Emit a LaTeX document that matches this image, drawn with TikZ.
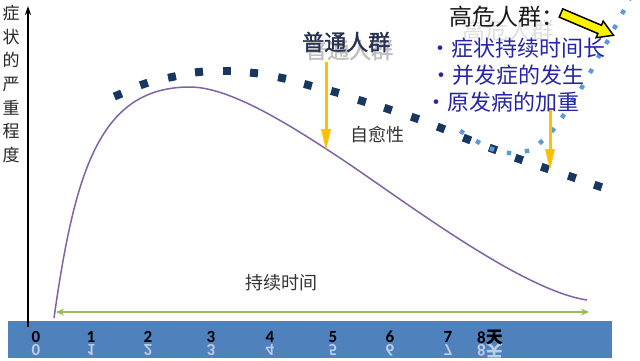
\documentclass[tikz,border=0pt]{standalone}
\usepackage{fontspec}
\setmainfont{Carlito}
\newfontfamily\cjk{Noto Sans CJK SC}
\newfontfamily\cjkb[FakeBold=1.6]{Noto Sans CJK SC}
\usetikzlibrary{arrows.meta}
\definecolor{bandc}{HTML}{4F81BD}
\definecolor{navydot}{HTML}{17375E}
\definecolor{lightdot}{HTML}{5B9BD5}
\definecolor{curvec}{HTML}{8064A2}
\definecolor{greenar}{HTML}{9BBB59}
\definecolor{goldc}{HTML}{FFC000}
\definecolor{bluetext}{RGB}{38,38,165}
\definecolor{ptcol}{RGB}{40,50,80}
\tikzset{
  ticklab/.style={inner sep=0pt, font=\bfseries\fontsize{17}{17}\selectfont, text=black},
  tickref/.style={inner sep=0pt, font=\bfseries\fontsize{17}{17}\selectfont, text=bandc!40!white, yscale=-1},
  risktext/.style={anchor=west, inner sep=0pt, text=bluetext, font=\cjk\fontsize{22}{22}\selectfont},
  yellowarrow/.style={goldc, line width=3pt, -{Triangle[length=22pt,width=9pt]}},
  darksq/.style={fill=navydot},
  lightsq/.style={fill=lightdot}
}
\begin{document}
\begin{tikzpicture}[x=1pt,y=-1pt]
\useasboundingbox (0,0) rectangle (640,360);
\fill[white] (0,0) rectangle (640,360);

% bottom band
\fill[bandc] (8,321) rectangle (612,358);

% y axis
\coordinate (ybot) at (28,327);
\coordinate (ytop) at (28,6);
\draw[line width=1.3pt, -{Stealth[length=9pt,width=6pt]}] (ybot) -- (ytop);
\node[inner sep=0pt, align=center, font=\cjk\fontsize{17}{23.7}\selectfont, text=black!85] (ylab) at (11,84)
  {症\\状\\的\\严\\重\\程\\度};

% tick labels and reflections
\begin{scope}
\clip (8,321) rectangle (612,358);
\foreach \lab/\x in {0/36,1/91,2/148,3/211,4/270,5/333,6/390,7/448}{
  \node[tickref] (r\lab) at (\x,350) {\lab};
}
\node[tickref] (r8) at (490,350) {8{\cjk 天}};
\end{scope}
\foreach \lab/\x in {0/36,1/91,2/148,3/211,4/270,5/333,6/390,7/448}{
  \node[ticklab] (t\lab) at (\x,337) {\lab};
}
\node[ticklab] (t8) at (490,337) {8{\cjk 天}};

% green duration arrow
\coordinate (gl) at (56,312);
\coordinate (gr) at (589,312);
\draw[greenar, line width=2.5pt, {Stealth[length=8pt,width=7pt]}-{Stealth[length=8pt,width=7pt]}] (gl) -- (gr);
\node[inner sep=0pt, font=\cjk\fontsize{18}{18}\selectfont, text=black!80] (dur) at (281,283) {持续时间};

% dark dotted trend (normal population)
\foreach \x/\y/\a in {118/95/22,144/84/18,172/77/12,199/72/6,227/71/0,254/73/-6,282/78/-12,308/85/-15,
  335/92/-16,362/101/-17,388/109/-18,415/118/-19,441/128/-21,467/139/-21,493/149/-20,519/159/-19,
  545/168/-18,572/177/-18,598/186/-18}{
  \fill[darksq, rotate around={\a:(\x,\y)}] (\x-4,\y-4) rectangle (\x+4,\y+4);
}

% light dotted trend (high-risk population)
\foreach \x/\y/\a in {462/132/-32,478/142/-30,492/149/-20,509/153/-5,527/151/15,541/142/40,553/130/50,
  563/116/55,573/100/58,582/87/60,591/71/60,599/56/60,607/42/60,615/27/60,623/12/60,630/-2/60}{
  \fill[lightsq, rotate around={\a:(\x,\y)}] (\x-2.2,\y-2.2) rectangle (\x+2.2,\y+2.2);
}

% symptom curve
\coordinate (c0) at (54,318);
\coordinate (c1) at (190,87);
\coordinate (c2) at (340,158);
\coordinate (c3) at (587,300);
\draw[curvec, line width=1.5pt]
  (c0) .. controls (75,170) and (100,87) .. (c1)
       .. controls (230,87) and (290,125) .. (c2)
       .. controls (400,197.6) and (520,290) .. (c3);

% yellow arrows
\coordinate (a1s) at (326,62);
\coordinate (a1e) at (326,151);
\draw[yellowarrow] (a1s) -- (a1e);
\coordinate (a2s) at (550,110);
\coordinate (a2e) at (550,171);
\draw[yellowarrow] (a2s) -- (a2e);

% labels
\node[anchor=west, inner sep=0pt, font=\cjkb\fontsize{22}{22}\selectfont, text=gray!50] (ptshadow) at (305,50) {普通人群};
\node[anchor=west, inner sep=0pt, font=\cjkb\fontsize{22}{22}\selectfont, text=ptcol] (pt) at (302,42) {普通人群};
\node[anchor=west, inner sep=0pt, font=\cjk\fontsize{18}{18}\selectfont, text=black!80] (zy) at (350,135) {自愈性};

\node[anchor=west, inner sep=0pt, font=\cjk\fontsize{23}{23}\selectfont, text=gray!25] (hrghost) at (462,31) {高危人群};
\node[anchor=west, inner sep=0pt, font=\cjk\fontsize{23}{23}\selectfont, text=black!90] (hr) at (449,17) {高危人群：};
\node[risktext] (l1) at (429,48) {•症状持续时间长};
\node[risktext] (l2) at (430,75) {•并发症的发生};
\node[risktext] (l3) at (425,102) {•原发病的加重};

% big yellow block arrow
\begin{scope}[shift={(561,13)}, rotate=-23]
  \filldraw[fill=yellow, draw=black, line width=1.5pt, line join=miter]
    (0,-4.5) -- (42,-4.5) -- (42,-9) -- (57,0) -- (42,9) -- (42,4.5) -- (0,4.5) -- cycle;
\end{scope}
\end{tikzpicture}
\end{document}
